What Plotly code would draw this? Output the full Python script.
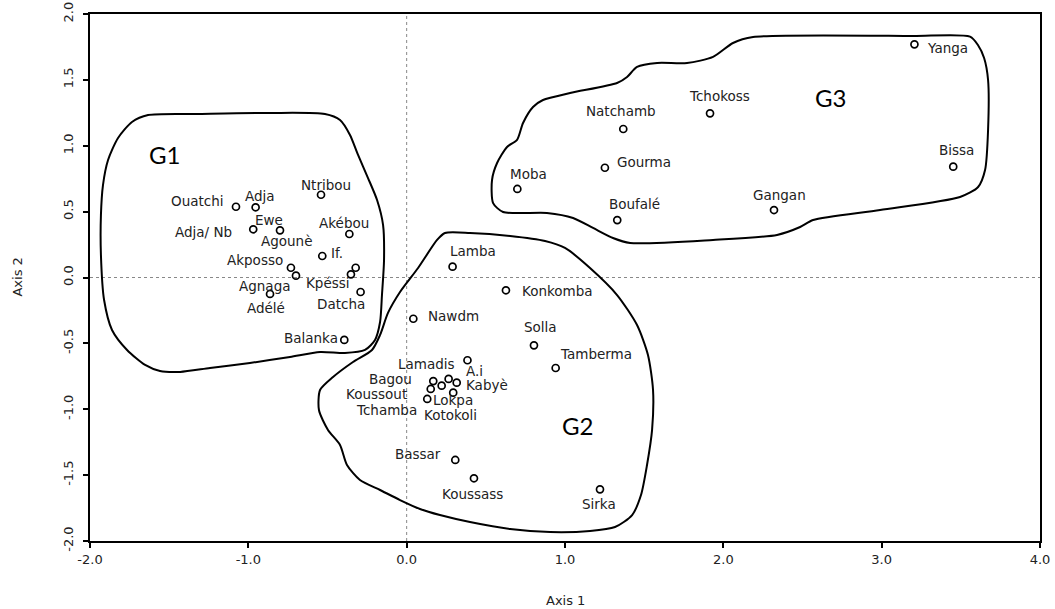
import plotly.graph_objects as go

# ---- point coordinates on the first two axes ----
g1_names = ["Ouatchi", "Adja", "Ntribou", "Adja/ Nb", "Ewe", "Agounè", "Akébou", "If.",
            "Akposso", "Agnaga", "Kpéssi", "Datcha", "Adélé", "Balanka"]
g1_x = [-1.078, -0.954, -0.541, -0.969, -0.800, -0.322, -0.362, -0.533,
        -0.731, -0.699, -0.352, -0.291, -0.863, -0.394]
g1_y = [0.537, 0.533, 0.628, 0.366, 0.358, 0.074, 0.330, 0.163,
        0.074, 0.014, 0.024, -0.110, -0.125, -0.474]

g2_names = ["Lamba", "Konkomba", "Nawdm", "Solla", "Tamberma", "A.i", "Lamadis", "Bagou",
            "Kabyè", "Koussout", "Kotokoli", "Lokpa", "Tchamba", "Bassar", "Koussass", "Sirka"]
g2_x = [0.290, 0.627, 0.042, 0.804, 0.941, 0.384, 0.265, 0.168,
        0.316, 0.152, 0.221, 0.294, 0.130, 0.307, 0.425, 1.221]
g2_y = [0.082, -0.097, -0.313, -0.515, -0.687, -0.628, -0.770, -0.786,
        -0.798, -0.846, -0.821, -0.874, -0.922, -1.385, -1.524, -1.608]

g3_names = ["Yanga", "Tchokoss", "Natchamb", "Gourma", "Moba", "Boufalé", "Gangan", "Bissa"]
g3_x = [3.207, 1.916, 1.368, 1.252, 0.699, 1.330, 2.320, 3.452]
g3_y = [1.770, 1.246, 1.127, 0.833, 0.672, 0.436, 0.512, 0.841]

# ---- group outlines (axis units) ----
g1_hull_x = [-1.918, -1.886, -1.823, -1.735, -1.633, -1.305, -0.863, -0.516, -0.421, -0.358,
             -0.307, -0.244, -0.187, -0.149, -0.143, -0.156, -0.168, -0.200, -0.263, -0.390,
             -0.547, -0.737, -0.990, -1.242, -1.431, -1.558, -1.652, -1.766, -1.861, -1.911,
             -1.931, -1.931]
g1_hull_y = [0.702, 0.892, 1.059, 1.180, 1.233, 1.241, 1.249, 1.241, 1.195, 1.082,
             0.930, 0.755, 0.588, 0.398, 0.133, -0.133, -0.338, -0.474, -0.550, -0.573,
             -0.565, -0.603, -0.649, -0.687, -0.717, -0.710, -0.664, -0.550, -0.398, -0.171,
             0.171, 0.474]

g2_hull_x = [0.192, 0.242, 0.400, 0.653, 0.874, 1.000, 1.158, 1.329, 1.455, 1.524,
             1.556, 1.550, 1.518, 1.480, 1.424, 1.316, 1.158, 0.906, 0.653, 0.400,
             0.210, 0.084, -0.042, -0.168, -0.295, -0.377, -0.421, -0.497, -0.554, -0.547,
             -0.465, -0.339, -0.219, -0.168, -0.118, -0.042, 0.072]
g2_hull_y = [0.285, 0.338, 0.338, 0.315, 0.277, 0.224, 0.072, -0.133, -0.361, -0.588,
             -0.854, -1.157, -1.423, -1.651, -1.803, -1.894, -1.924, -1.932, -1.909, -1.856,
             -1.803, -1.757, -1.689, -1.613, -1.537, -1.423, -1.271, -1.157, -1.006, -0.854,
             -0.755, -0.641, -0.550, -0.436, -0.269, -0.110, 0.072]

g3_hull_x = [3.558, 3.608, 3.647, 3.672, 3.672, 3.653, 3.609, 3.495, 2.990, 2.567,
             2.485, 2.339, 1.935, 1.411, 1.303, 1.177, 1.051, 0.886, 0.609, 0.546,
             0.539, 0.571, 0.634, 0.697, 0.735, 0.798, 0.861, 1.032, 1.329, 1.392,
             1.455, 1.582, 1.771, 1.935, 2.061, 2.188, 3.198]
g3_hull_y = [1.828, 1.765, 1.666, 1.499, 1.120, 0.816, 0.687, 0.611, 0.512, 0.436,
             0.383, 0.323, 0.285, 0.262, 0.300, 0.376, 0.452, 0.490, 0.497, 0.565,
             0.740, 0.869, 0.991, 1.044, 1.173, 1.294, 1.347, 1.400, 1.476, 1.522,
             1.598, 1.628, 1.628, 1.674, 1.780, 1.825, 1.833]

group_names = ["G1", "G2", "G3"]
group_label_x = [-1.53, 1.076, 2.675]
group_label_y = [0.930, -1.120, 1.370]

x_ticks = [-2, -1, 0, 1, 2, 3, 4]
y_ticks = [-2.0, -1.5, -1.0, -0.5, 0.0, 0.5, 1.0, 1.5, 2.0]

# label offsets from each point, in pixels (dx right, dy up)
label_shift = {
    "Ouatchi": (-39, 6), "Adja": (4, 11), "Ntribou": (5, 10), "Adja/ Nb": (-50, -3),
    "Ewe": (-11, 10), "Agounè": (-69, 27), "Akébou": (-5, 11), "If.": (15, 3),
    "Akposso": (-36, 8), "Agnaga": (-31, -10), "Kpéssi": (-23, -9), "Datcha": (-20, -12),
    "Adélé": (-4, -14), "Balanka": (-33, 2),
    "Lamba": (20, 16), "Konkomba": (52, -1), "Nawdm": (40, 3), "Solla": (7, 18),
    "Tamberma": (40, 14), "A.i": (7, -11), "Lamadis": (-22, 15), "Bagou": (-43, 2),
    "Kabyè": (30, -2), "Koussout": (-54, -5), "Kotokoli": (9, -29), "Lokpa": (0, -7),
    "Tchamba": (-41, -11), "Bassar": (-37, 6), "Koussass": (-1, -16), "Sirka": (-1, -15),
    "Yanga": (33, -4), "Tchokoss": (9, 17), "Natchamb": (-2, 18), "Gourma": (39, 6),
    "Moba": (11, 15), "Boufalé": (17, 16), "Gangan": (5, 15), "Bissa": (3, 17),
}

label_font = dict(family="DejaVu Sans", size=13.5, color="#222222")
tick_font = dict(family="DejaVu Sans", size=13, color="#222222")
title_font = dict(family="DejaVu Sans", size=13, color="#222222")

fig = go.Figure()

# group outlines
for hx, hy in [(g1_hull_x, g1_hull_y), (g2_hull_x, g2_hull_y), (g3_hull_x, g3_hull_y)]:
    fig.add_trace(go.Scatter(
        x=hx + hx[:1], y=hy + hy[:1], mode="lines",
        line=dict(color="black", width=2, shape="spline", smoothing=0.7),
        hoverinfo="skip", showlegend=False,
    ))

# points
all_names = g1_names + g2_names + g3_names
all_x = g1_x + g2_x + g3_x
all_y = g1_y + g2_y + g3_y
fig.add_trace(go.Scatter(
    x=all_x, y=all_y, mode="markers", text=all_names,
    marker=dict(symbol="circle-open", size=7, color="black", line=dict(width=1.7)),
    hovertemplate="%{text}<br>%{x:.2f}, %{y:.2f}<extra></extra>", showlegend=False,
))

annotations = []
for n, px, py in zip(all_names, all_x, all_y):
    dx, dy = label_shift[n]
    annotations.append(dict(x=px, y=py, xref="x", yref="y", text=n, showarrow=False,
                            xshift=dx, yshift=dy, font=label_font,
                            xanchor="center", yanchor="middle"))

for n, gx, gy in zip(group_names, group_label_x, group_label_y):
    annotations.append(dict(x=gx, y=gy, xref="x", yref="y", text=n, showarrow=False,
                            font=dict(family="Lato", size=24, color="black"),
                            xanchor="center", yanchor="middle"))

annotations.append(dict(x=0.5, y=-0.112, xref="paper", yref="paper", text="Axis 1",
                        showarrow=False, font=title_font, xanchor="center", yanchor="middle"))
annotations.append(dict(x=-0.0768, y=0.5, xref="paper", yref="paper", text="Axis 2",
                        showarrow=False, textangle=-90, font=title_font,
                        xanchor="center", yanchor="middle"))

shapes = [
    dict(type="line", xref="x", yref="paper", x0=0, x1=0, y0=0, y1=1,
         line=dict(color="#888888", width=1, dash="3px,3px"), layer="below"),
    dict(type="line", xref="paper", yref="y", x0=0, x1=1, y0=0, y1=0,
         line=dict(color="#888888", width=1, dash="3px,3px"), layer="below"),
]

fig.update_layout(
    width=1055, height=609,
    margin=dict(l=90, r=15, t=14, b=68, autoexpand=False),
    paper_bgcolor="white", plot_bgcolor="white",
    annotations=annotations, shapes=shapes,
    xaxis=dict(range=[-2, 4], tickvals=x_ticks, ticktext=[f"{v:.1f}" for v in x_ticks],
               showgrid=False, zeroline=False, showline=True, linecolor="black",
               linewidth=2, mirror=True, ticks="outside", ticklen=5, tickwidth=1.5,
               tickcolor="black", tickfont=tick_font, ticklabelstandoff=0,
               automargin=False),
    yaxis=dict(range=[-2, 2], tickvals=y_ticks, ticktext=[f"{v:.1f}" for v in y_ticks],
               showgrid=False, zeroline=False, showline=True, linecolor="black",
               linewidth=2, mirror=True, ticks="outside", ticklen=5, tickwidth=1.5,
               tickcolor="black", tickfont=tick_font, tickangle=-90, ticklabelstandoff=5,
               automargin=False),
)

fig.write_html("out.html")
